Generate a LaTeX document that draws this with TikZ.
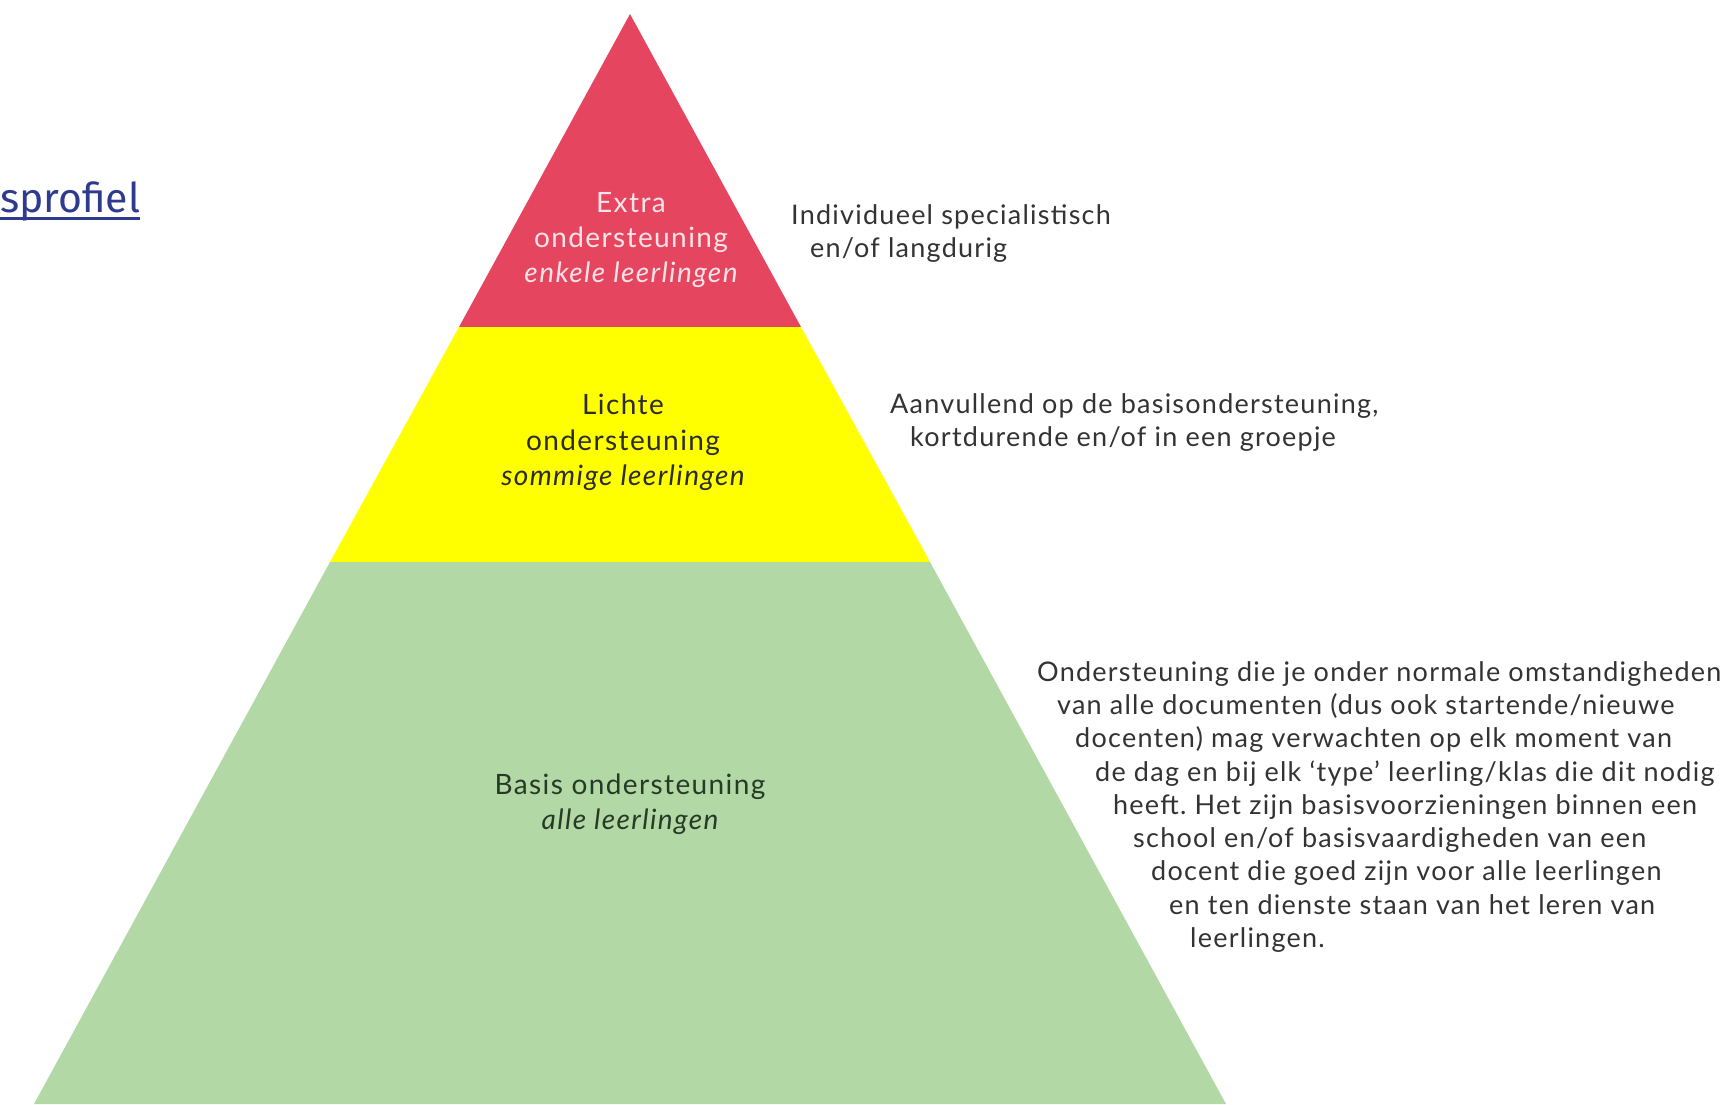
\documentclass[tikz,border=0pt]{standalone}
\usepackage{fontspec}
\setmainfont{Lato}
\newfontfamily\sidefont{Lato}[LetterSpace=4.6]
\newfontfamily\lvlfont{Lato}[LetterSpace=5]
\newfontfamily\linkfont{Fira Sans}
\definecolor{pyrred}{HTML}{E5455F}
\definecolor{pyryellow}{HTML}{FFFF00}
\definecolor{pyrgreen}{HTML}{B2D8A6}
\definecolor{redtext}{HTML}{FBE4E8}
\definecolor{darktext}{HTML}{2B2B2B}
\definecolor{greentext}{HTML}{263A26}
\definecolor{sidetext}{HTML}{333333}
\definecolor{linkblue}{HTML}{2E3A8E}
\frenchspacing
\begin{document}
\begin{tikzpicture}[x=1pt,y=-1pt,
  lvl/.style={font=\lvlfont\fontsize{28}{35}\selectfont, anchor=base, inner sep=0pt},
  side/.style={font=\sidefont\fontsize{27}{33}\selectfont, anchor=base west, inner sep=0pt, text=sidetext}]
\useasboundingbox (0,0) rectangle (1727,1104);
\fill[white] (0,0) rectangle (1727,1104);
\coordinate (apex) at (630,14);
\coordinate (rl) at (459,327);
\coordinate (rr) at (801,327);
\coordinate (yl) at (330,562);
\coordinate (yr) at (930,562);
\coordinate (gl) at (34,1104);
\coordinate (gr) at (1226,1104);
\fill[pyrred] (apex) -- (rr) -- (rl) -- cycle;
\fill[pyryellow] (rl) -- (rr) -- (yr) -- (yl) -- cycle;
\fill[pyrgreen] (yl) -- (yr) -- (gr) -- (gl) -- cycle;

% link text
\node[anchor=base west, inner sep=0pt, text=linkblue, font=\linkfont\fontsize{41}{44}\selectfont] (link) at (0,212) {sprofiel};
\draw[linkblue, line width=3pt] ([yshift=-6pt]link.base west) -- ([yshift=-6pt]link.base east);

% red level
\node[lvl, text=redtext] (r1) at (631,212) {Extra};
\node[lvl, text=redtext] (r2) at (631,247) {ondersteuning};
\node[lvl, text=redtext] (r3) at (631,282) {\itshape enkele leerlingen};
% yellow level
\node[lvl, text=darktext] (y1) at (623,414) {Lichte};
\node[lvl, text=darktext] (y2) at (623,450) {ondersteuning};
\node[lvl, text=darktext] (y3) at (623,485) {\itshape sommige leerlingen};
% green level
\node[lvl, text=greentext] (g1) at (630,794) {Basis ondersteuning};
\node[lvl, text=greentext] (g2) at (630,829) {\itshape alle leerlingen};

% side texts
\node[side] (a1) at (791,224) {Individueel specialistisch};
\node[side] (a2) at (810,257) {en/of langdurig};
\node[side] (b1) at (890,413) {Aanvullend op de basisondersteuning,};
\node[side] (b2) at (910,446) {kortdurende en/of in een groepje};
\node[side] (c1) at (1037,681) {Ondersteuning die je onder normale omstandigheden};
\node[side] (c2) at (1057,714) {van alle documenten (dus ook startende/nieuwe};
\node[side] (c3) at (1075,747) {docenten) mag verwachten op elk moment van};
\node[side] (c4) at (1095,781) {de dag en bij elk ‘type’ leerling/klas die dit nodig};
\node[side] (c5) at (1113,814) {heeft. Het zijn basisvoorzieningen binnen een};
\node[side] (c6) at (1133,847) {school en/of basisvaardigheden van een};
\node[side] (c7) at (1151,880) {docent die goed zijn voor alle leerlingen};
\node[side] (c8) at (1169,914) {en ten dienste staan van het leren van};
\node[side] (c9) at (1190,947) {leerlingen.};
\end{tikzpicture}
\end{document}
